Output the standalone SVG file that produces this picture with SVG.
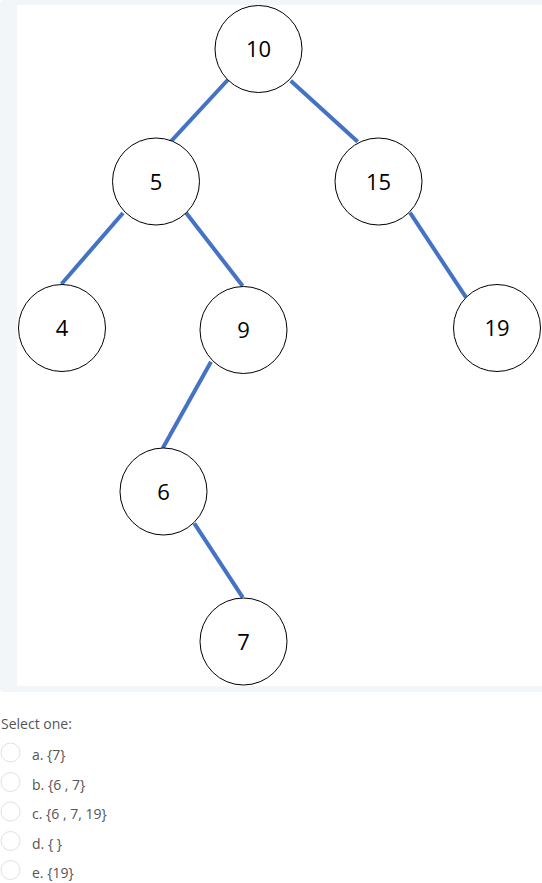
<svg xmlns="http://www.w3.org/2000/svg" width="542" height="883" viewBox="0 0 542 883">
<style>
.node circle{fill:#fff;stroke:#000;stroke-width:1}
.node text{font-family:"Open Sans","DejaVu Sans",sans-serif;font-size:22px;fill:#000;text-anchor:middle}
#edges line{stroke:#4472c4;stroke-width:4}
.opt text,.sel{font-family:"Open Sans","DejaVu Sans",sans-serif;font-size:14px;fill:#555}
.opt circle{fill:#fff;stroke:#dee2e6;stroke-width:1}
</style>
<rect width="542" height="883" fill="#fff"/>
<rect x="0" y="0" width="546" height="692" rx="4" fill="#f3f6f9"/>
<rect x="17" y="5" width="525" height="681" fill="#fff"/>
<g id="edges">
<line x1="227.7" y1="80" x2="170.7" y2="141.7"/>
<line x1="290.7" y1="80.7" x2="357.7" y2="141.7"/>
<line x1="123" y1="213" x2="61.5" y2="284"/>
<line x1="186" y1="212.7" x2="242.7" y2="286"/>
<line x1="410" y1="212.7" x2="466" y2="297.3"/>
<line x1="211" y1="361.7" x2="162.7" y2="448.3"/>
<line x1="194.3" y1="523.3" x2="242.7" y2="597.3"/>
</g>
<g id="n10" class="node"><circle cx="258.5" cy="49" r="43.5"/><text x="258.5" y="57">10</text></g>
<g id="n5" class="node"><circle cx="156" cy="181.5" r="43.5"/><text x="156" y="189.5">5</text></g>
<g id="n15" class="node"><circle cx="378.5" cy="181.5" r="43.5"/><text x="378.5" y="189.5">15</text></g>
<g id="n4" class="node"><circle cx="62" cy="328" r="43.5"/><text x="62" y="336">4</text></g>
<g id="n9" class="node"><circle cx="243.5" cy="330" r="43.5"/><text x="243.5" y="338">9</text></g>
<g id="n19" class="node"><circle cx="497" cy="328" r="43.5"/><text x="497" y="336">19</text></g>
<g id="n6" class="node"><circle cx="163.5" cy="491.5" r="43.5"/><text x="163.5" y="499.5">6</text></g>
<g id="n7" class="node"><circle cx="243.5" cy="641.5" r="43.5"/><text x="243.5" y="649.5">7</text></g>
<text class="sel" x="1" y="729">Select one:</text>
<g class="opt" id="opt-a"><circle cx="10.5" cy="752.5" r="9.5"/><text x="32" y="760">a. {7}</text></g>
<g class="opt" id="opt-b"><circle cx="10.5" cy="782" r="9.5"/><text x="32" y="789.5">b. {6 , 7}</text></g>
<g class="opt" id="opt-c"><circle cx="10.5" cy="811.5" r="9.5"/><text x="32" y="819">c. {6 , 7, 19}</text></g>
<g class="opt" id="opt-d"><circle cx="10.5" cy="841" r="9.5"/><text x="32" y="848.5">d. { }</text></g>
<g class="opt" id="opt-e"><circle cx="10.5" cy="870" r="9.5"/><text x="32" y="877.5">e. {19}</text></g>
</svg>
